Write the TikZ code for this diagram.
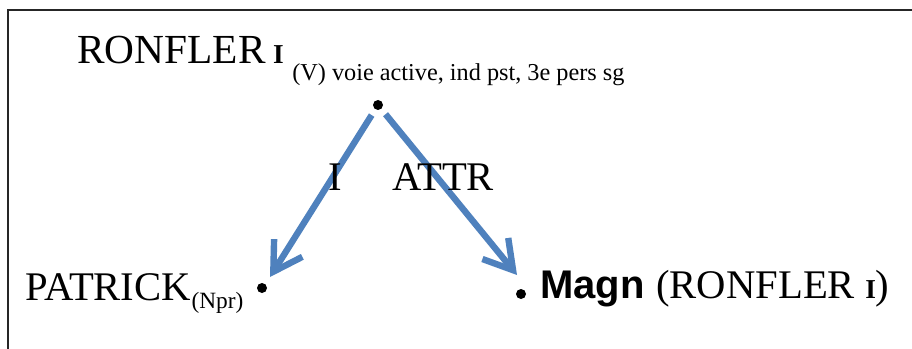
\documentclass[tikz,border=0pt]{standalone}
\usepackage{fontspec}
\setmainfont{Liberation Serif}
\newfontfamily\arialf{Liberation Sans}
\usetikzlibrary{arrows.meta}
\definecolor{arrblue}{RGB}{79,129,189}
\newcommand{\smallI}{{\fontsize{20.5}{22}\selectfont\bfseries I}}
\tikzset{
  big/.style={inner sep=0pt, font=\fontsize{30.5}{35}\selectfont},
  subs/.style={inner sep=0pt, font=\fontsize{18.2}{22}\selectfont},
  subsn/.style={inner sep=0pt, font=\fontsize{17.5}{21}\selectfont},
  dotnode/.style={circle, fill=black, inner sep=0pt, minimum size=7.5pt},
  arr/.style={draw=arrblue, line width=4.8pt, -{Straight Barb[length=21pt,width=25pt]}},
}
\begin{document}
\begin{tikzpicture}[x=0.75pt,y=-0.75pt]
\useasboundingbox (0,0) rectangle (912,349);
\draw[line width=1.2pt, black!85] (8,349) -- (8,10) -- (912,10);
% top
\node[big, anchor=base west, font=\fontsize{31}{36}\selectfont] (ronfler) at (77,64) {RONFLER\hspace{0.18em}\smallI};
\node[subs, anchor=base west] (ronsub) at (292,81) {(V) voie active, ind pst, 3e pers sg};
\node[dotnode] (top) at (378,105) {};
% left
\node[big, anchor=base west] (pat) at (25,300) {PATRICK};
\node[subsn, anchor=base west] (patsub) at (pat.base east) [yshift=-6pt] {(Npr)};
\node[dotnode] (pdot) at (262,288) {};
% right
\node[dotnode] (mdot) at (521,294) {};
\node[inner sep=0pt, anchor=base west, font=\arialf\bfseries\fontsize{30}{34}\selectfont] (magn) at (540,298) {Magn};
\node[big, anchor=base west] (magnarg) at (656,298) {(RONFLER \smallI)};
% arrows
\coordinate (ptip) at (270,277);
\coordinate (mtip) at (517,275);
\draw[arr, shorten <=5pt] (top) -- (ptip);
\draw[arr, shorten <=5pt] (top) -- (mtip);
% labels
\node[big, anchor=base] (lI) at (335,190) {I};
\node[big, anchor=base west] (lATTR) at (392,190) {ATTR};
\end{tikzpicture}
\end{document}
